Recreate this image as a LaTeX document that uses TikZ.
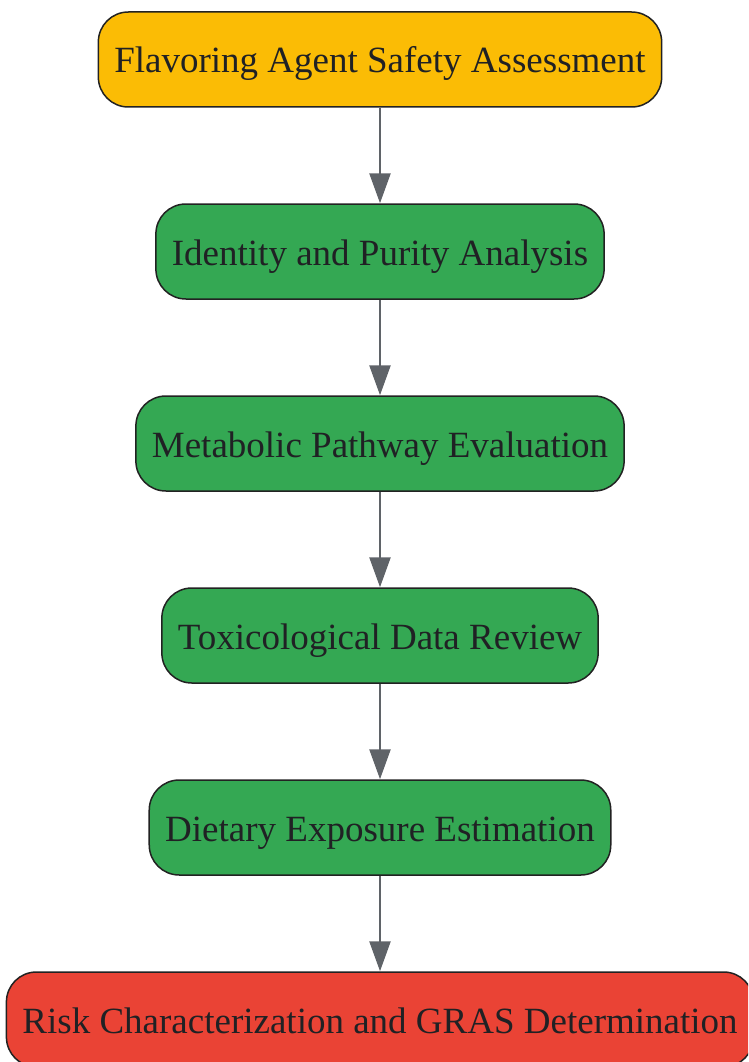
\documentclass[tikz,border=0pt]{standalone}
\usepackage{fontspec}
\setmainfont{Liberation Serif}
\usetikzlibrary{positioning,arrows.meta}

\definecolor{startcol}{HTML}{FBBC05}
\definecolor{stepcol}{HTML}{34A853}
\definecolor{endcol}{HTML}{EA4335}
\definecolor{edgecol}{HTML}{222222}
\definecolor{arrowcol}{HTML}{5F6368}
\definecolor{textcol}{HTML}{202124}

\tikzset{
  stage/.style={draw=edgecol, line width=1.5pt, rounded corners=30pt,
    minimum height=95pt, inner xsep=16pt, text=textcol,
    text height=33pt, text depth=6pt,
    font=\fontsize{37}{44}\selectfont},
  flow/.style={-{Triangle[length=30pt,width=21pt]}, draw=arrowcol, fill=arrowcol, line width=2.5pt}
}

\begin{document}
\begin{tikzpicture}[node distance=95.5pt]
    \useasboundingbox (0pt,0pt) rectangle (748pt,-1062pt);
    \clip (0pt,0pt) rectangle (748pt,-1062pt);
    % --- Etapas de la evaluacion ---
    \node[stage, fill=startcol] (Assess) at (380pt,-59.5pt) {Flavoring Agent Safety Assessment};
    \node[stage, fill=stepcol, below=of Assess] (Identity) {Identity and Purity Analysis};
    \node[stage, fill=stepcol, below=of Identity] (Metabolic) {Metabolic Pathway Evaluation};
    \node[stage, fill=stepcol, below=of Metabolic] (Toxic) {Toxicological Data Review};
    \node[stage, fill=stepcol, below=of Toxic] (Exposure) {Dietary Exposure Estimation};
    \node[stage, fill=endcol, below=of Exposure] (Risk) {Risk Characterization and GRAS Determination};
    % --- Flechas ---
    \draw[flow] (Assess) -- (Identity);
    \draw[flow] (Identity) -- (Metabolic);
    \draw[flow] (Metabolic) -- (Toxic);
    \draw[flow] (Toxic) -- (Exposure);
    \draw[flow] (Exposure) -- (Risk);
\end{tikzpicture}
\end{document}
